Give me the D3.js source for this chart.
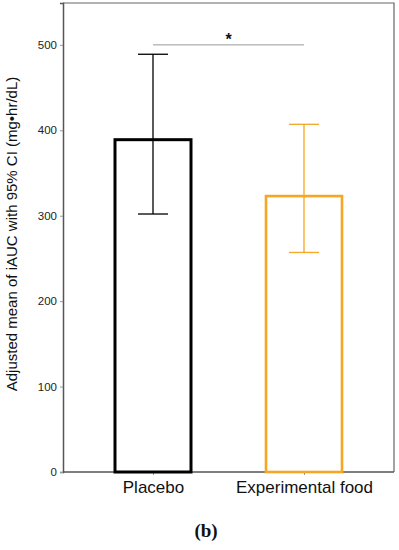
<!DOCTYPE html>
<html>
<head>
<meta charset="utf-8">
<script src="https://cdn.jsdelivr.net/npm/d3@7"></script>
<style>
  body { margin: 0; background: #fff; }
  svg { display: block; }
</style>
</head>
<body>
<div id="chart"></div>
<script>
// chart values
const groups = ["Placebo", "Experimental food"];
const means = [389, 323];
const ciLow = [302, 257];
const ciHigh = [489, 407];
const barColors = ["#000000", "#f5a623"];
const yTicks = [0, 100, 200, 300, 400, 500];

const width = 399, height = 550;
const margin = { top: 3, right: 5, bottom: 78, left: 63 };

const svg = d3.select("#chart").append("svg")
    .attr("width", width)
    .attr("height", height);

const x = d3.scalePoint()
    .domain(groups)
    .range([153, 304]);

const y = d3.scaleLinear()
    .domain([0, 549])
    .range([height - margin.bottom, margin.top]);

// frame (top + right)
svg.append("path")
    .attr("d", `M${margin.left},${margin.top}H${width - margin.right}V${y(0)}`)
    .attr("fill", "none")
    .attr("stroke", "#666")
    .attr("stroke-width", 1.2);

// y axis
const yAxis = svg.append("g")
    .attr("transform", `translate(${margin.left},0)`)
    .call(d3.axisLeft(y).tickValues(yTicks).tickSize(3).tickPadding(3));
yAxis.select(".domain").attr("stroke", "#555").attr("stroke-width", 1.5);
yAxis.selectAll(".tick line").attr("stroke", "#999");
yAxis.selectAll("text")
    .attr("font-family", "Arial, 'Liberation Sans', sans-serif")
    .attr("font-size", 11.5)
    .attr("fill", "#222");

// x axis
const xAxis = svg.append("g")
    .attr("transform", `translate(0,${y(0)})`)
    .call(d3.axisBottom(x).tickSize(3).tickPadding(6));
xAxis.select(".domain")
    .attr("d", `M${margin.left},0H${width - margin.right}`)
    .attr("stroke", "#555").attr("stroke-width", 1.5);
xAxis.selectAll(".tick line").attr("stroke", "#999");
xAxis.selectAll("text")
    .attr("font-family", "Arial, 'Liberation Sans', sans-serif")
    .attr("font-size", 17)
    .attr("fill", "#111");

const barW = 76;

// bars
svg.selectAll("rect.bar")
    .data(groups)
    .enter()
    .append("rect")
    .attr("class", "bar")
    .attr("x", d => x(d) - barW / 2)
    .attr("y", (d, i) => y(means[i]))
    .attr("width", barW)
    .attr("height", (d, i) => y(0) - y(means[i]))
    .attr("fill", "none")
    .attr("stroke", (d, i) => barColors[i])
    .attr("stroke-width", (d, i) => i === 0 ? 3 : 2.6);

// error bars
const capW = 30;
const err = svg.selectAll("g.err")
    .data(groups)
    .enter()
    .append("g")
    .attr("class", "err")
    .attr("stroke", (d, i) => barColors[i])
    .attr("stroke-width", 1.3);

err.append("line")
    .attr("x1", d => x(d)).attr("x2", d => x(d))
    .attr("y1", (d, i) => y(ciLow[i]))
    .attr("y2", (d, i) => y(ciHigh[i]));
err.selectAll("line.cap")
    .data((d, i) => [ciLow[i], ciHigh[i]].map(v => ({ g: d, v })))
    .enter()
    .append("line")
    .attr("class", "cap")
    .attr("x1", d => x(d.g) - capW / 2)
    .attr("x2", d => x(d.g) + capW / 2)
    .attr("y1", d => y(d.v))
    .attr("y2", d => y(d.v));

// significance bracket
svg.append("line")
    .attr("x1", x(groups[0])).attr("x2", x(groups[1]))
    .attr("y1", y(500)).attr("y2", y(500))
    .attr("stroke", "#999")
    .attr("stroke-width", 1);
svg.append("text")
    .attr("x", (x(groups[0]) + x(groups[1])) / 2)
    .attr("y", y(500))
    .attr("text-anchor", "middle")
    .attr("font-family", "Arial, 'Liberation Sans', sans-serif")
    .attr("font-size", 16)
    .attr("font-weight", "bold")
    .attr("fill", "#111")
    .text("*");

// y label
svg.append("text")
    .attr("transform", "translate(17,234) rotate(-90)")
    .attr("text-anchor", "middle")
    .attr("font-family", "Arial, 'Liberation Sans', sans-serif")
    .attr("font-size", 15)
    .attr("fill", "#111")
    .text("Adjusted mean of iAUC with 95% CI (mg\u2022hr/dL)");

// panel label
svg.append("text")
    .attr("x", 206)
    .attr("y", 537)
    .attr("text-anchor", "middle")
    .attr("font-family", "'Liberation Serif', 'DejaVu Serif', serif")
    .attr("font-size", 19)
    .attr("font-weight", "bold")
    .attr("fill", "#111")
    .text("(b)");
</script>
</body>
</html>
